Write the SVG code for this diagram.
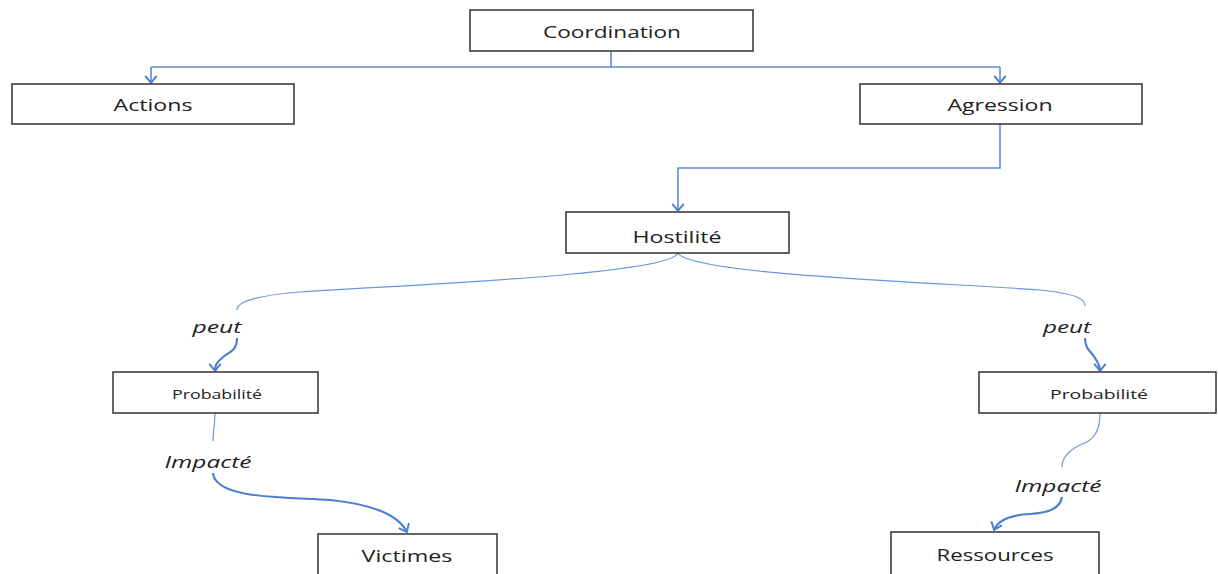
<svg xmlns="http://www.w3.org/2000/svg" width="1218" height="574" viewBox="0 0 1218 574">
<style>
.box{fill:#fff;stroke:#333;stroke-width:1.5}
.t{font-family:"Open Sans","Liberation Sans",sans-serif;font-size:17px;fill:#222;text-anchor:middle;dominant-baseline:central}
.ts{font-size:13px}
.lbl{font-family:"Open Sans","Liberation Sans",sans-serif;font-size:17px;font-style:italic;fill:#222;text-anchor:middle;dominant-baseline:central}
.c{fill:none;stroke:#5b8bd9;stroke-width:1.6}
.c2{fill:none;stroke:#6a96dc;stroke-width:1.2}
.cb{fill:none;stroke:#4a7fd4;stroke-width:2.2}
</style>
<defs>
<marker id="ah" viewBox="0 0 10 12" refX="9" refY="6" markerWidth="11" markerHeight="13.2" markerUnits="userSpaceOnUse" orient="auto">
<path d="M2.5,0.8 L8.8,6 L2.5,11.2" fill="none" stroke="#4a7fd4" stroke-width="1.8"/>
</marker>
</defs>
<g id="connectors">
<path class="c" d="M611,51 V67 M151,67 H1000"/>
<path class="c" d="M151,67 V83" marker-end="url(#ah)"/>
<path class="c" d="M1000,67 V83" marker-end="url(#ah)"/>
<path class="c" d="M1000,124 V168 H678 V211" marker-end="url(#ah)"/>
<path class="c2" d="M678,253 C670,275 400,285 300,292 C250,296 237,303 237,310"/>
<path class="cb" d="M237,338 C237,352 228,352 222,358 C216,363 215,366 215,371" marker-end="url(#ah)"/>
<path class="c2" d="M678,253 C690,275 950,283 1040,290 C1080,294 1085,300 1085,306"/>
<path class="cb" d="M1085,338 C1085,350 1092,352 1095,358 C1099,364 1100,367 1100,371" marker-end="url(#ah)"/>
<path class="c2" d="M215,413 C215,425 213,430 213,441"/>
<path class="cb" d="M213,473 C215,500 290,497 330,500 C380,505 400,518 407,532" marker-end="url(#ah)"/>
<path class="c2" d="M1100,413 C1100,430 1095,440 1080,445 C1066,452 1062,460 1062,467"/>
<path class="cb" d="M1062,497 C1060,510 1045,513 1030,514 C1010,515 998,520 994,530" marker-end="url(#ah)"/>
</g>
<g id="lbl-peut-l"><text class="lbl" x="217" y="326" textLength="49" lengthAdjust="spacingAndGlyphs">peut</text></g>
<g id="lbl-peut-r"><text class="lbl" x="1067" y="326" textLength="48" lengthAdjust="spacingAndGlyphs">peut</text></g>
<g id="lbl-imp-l"><text class="lbl" x="208" y="461" textLength="87" lengthAdjust="spacingAndGlyphs">Impacté</text></g>
<g id="lbl-imp-r"><text class="lbl" x="1058" y="485" textLength="87" lengthAdjust="spacingAndGlyphs">Impacté</text></g>
<g id="coordination"><rect class="box" x="470" y="10" width="283" height="41"/><text class="t" x="612" y="31" textLength="138" lengthAdjust="spacingAndGlyphs">Coordination</text></g>
<g id="actions"><rect class="box" x="12" y="84" width="282" height="40"/><text class="t" x="153" y="104" textLength="79" lengthAdjust="spacingAndGlyphs">Actions</text></g>
<g id="agression"><rect class="box" x="860" y="84" width="282" height="40"/><text class="t" x="1000" y="104" textLength="105" lengthAdjust="spacingAndGlyphs">Agression</text></g>
<g id="hostilite"><rect class="box" x="566" y="212" width="223" height="41"/><text class="t" x="677" y="236" textLength="89" lengthAdjust="spacingAndGlyphs">Hostilité</text></g>
<g id="prob-l"><rect class="box" x="113" y="372" width="205" height="41"/><text class="t ts" x="217" y="394" textLength="90" lengthAdjust="spacingAndGlyphs">Probabilité</text></g>
<g id="prob-r"><rect class="box" x="979" y="372" width="237" height="41"/><text class="t ts" x="1099" y="394" textLength="98" lengthAdjust="spacingAndGlyphs">Probabilité</text></g>
<g id="victimes"><rect class="box" x="318" y="534" width="179" height="44"/><text class="t" x="407" y="555" textLength="91" lengthAdjust="spacingAndGlyphs">Victimes</text></g>
<g id="ressources"><rect class="box" x="891" y="532" width="208" height="46"/><text class="t" x="995" y="554" textLength="117" lengthAdjust="spacingAndGlyphs">Ressources</text></g>
</svg>
